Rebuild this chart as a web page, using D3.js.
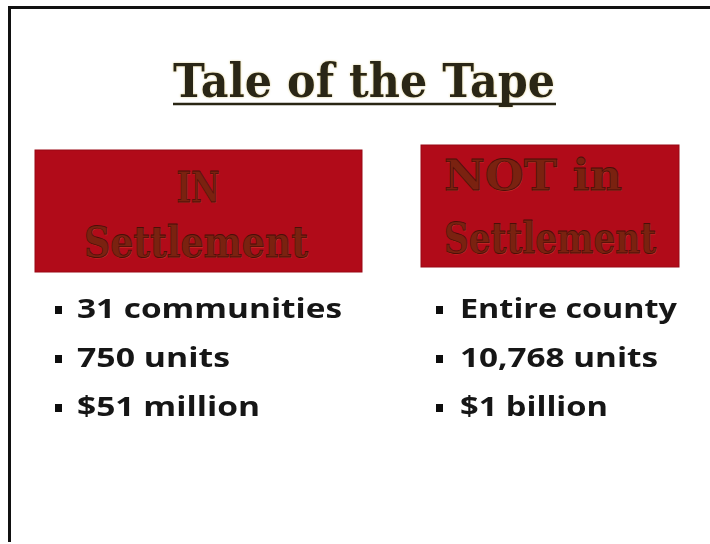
<!DOCTYPE html>
<html>
<head>
<meta charset="utf-8">
<script src="https://cdn.jsdelivr.net/npm/d3@7"></script>
<style>
  html, body { margin: 0; padding: 0; background: #fff; }
  #slide { width: 710px; height: 544px; }
</style>
</head>
<body>
<div id="slide"></div>
<script>
// 데이터
const titleText = "Tale of the Tape";
const headerLines = [["IN", "Settlement"], ["NOT in", "Settlement"]];
const leftItems = ["31 communities", "750 units", "$51 million"];
const rightItems = ["Entire county", "10,768 units", "$1 billion"];
const leftWidths = [265, 153, 183];   // 그림에서 읽은 글자 폭
const rightWidths = [217, 198, 148];

const W = 710, H = 544;

const svg = d3.select("#slide").append("svg")
  .attr("width", W).attr("height", H)
  .attr("viewBox", `0 0 ${W} ${H}`);

const defs = svg.append("defs");
const glow = defs.append("filter").attr("id", "glow").attr("x", "-5%").attr("y", "-20%").attr("width", "110%").attr("height", "140%");
glow.append("feGaussianBlur").attr("in", "SourceAlpha").attr("stdDeviation", 1.2).attr("result", "b");
glow.append("feFlood").attr("flood-color", "#c9b25a").attr("flood-opacity", 0.6);
glow.append("feComposite").attr("in2", "b").attr("operator", "in").attr("result", "g");
const gm = glow.append("feMerge");
gm.append("feMergeNode").attr("in", "g");
gm.append("feMergeNode").attr("in", "SourceGraphic");

// 살짝 번진 느낌
const soft = defs.append("filter").attr("id", "soft");
soft.append("feGaussianBlur").attr("stdDeviation", 0.5);

// 테두리
svg.append("path")
  .attr("d", `M ${W + 5} 7.5 L 9.5 7.5 L 9.5 542`)
  .attr("fill", "none").attr("stroke", "#111").attr("stroke-width", 3);

// 제목
svg.append("text")
  .attr("x", 173).attr("y", 97)
  .attr("textLength", 382).attr("lengthAdjust", "spacingAndGlyphs")
  .style("font-family", "'DejaVu Serif', serif")
  .style("font-weight", "bold")
  .style("font-size", "46px")
  .style("fill", "#2a2614")
  .attr("filter", "url(#glow)")
  .text(titleText);
svg.append("line")
  .attr("x1", 173).attr("x2", 556).attr("y1", 104).attr("y2", 104)
  .attr("stroke", "#2a2614").attr("stroke-width", 2.5);

// 빨간 박스
const boxes = [
  { x: 35, y: 150, w: 327, h: 122, base: [202, 257], lens: [43, 224], cx: [198, 196] },
  { x: 421, y: 145, w: 258, h: 122, base: [190, 253], lens: [178, 212], cx: [533, 550] }
];

boxes.forEach((b, i) => {
  svg.append("rect")
    .attr("x", b.x).attr("y", b.y).attr("width", b.w).attr("height", b.h)
    .attr("fill", "#b10b19")
    .attr("stroke", "#9a0814").attr("stroke-width", 1);
  headerLines[i].forEach((t, j) => {
    // 음각 효과: 밝은 그림자 + 어두운 글자
    svg.append("text")
      .attr("x", b.cx[j] + 1).attr("y", b.base[j] + 1)
      .attr("text-anchor", "middle")
      .attr("textLength", b.lens[j]).attr("lengthAdjust", "spacingAndGlyphs")
      .style("font-family", "'DejaVu Serif', serif")
      .style("font-weight", "bold")
      .style("font-size", "43px")
      .style("fill", "#d4472f").style("opacity", 0.55)
      .text(t);
    svg.append("text")
      .attr("x", b.cx[j]).attr("y", b.base[j])
      .attr("text-anchor", "middle")
      .attr("textLength", b.lens[j]).attr("lengthAdjust", "spacingAndGlyphs")
      .style("font-family", "'DejaVu Serif', serif")
      .style("font-weight", "bold")
      .style("font-size", "43px")
      .style("fill", "#7a2210")
      .style("stroke", "#4a0f08").style("stroke-width", 0.8)
      .text(t);
  });
});

// 글머리 목록
const yRow = d3.scaleLinear().domain([0, leftItems.length - 1]).range([318, 416]);

const drawList = (items, widths, bulletX, textX) => {
  const g = svg.append("g").attr("filter", "url(#soft)");
  g.selectAll(".bullet")
    .data(items)
    .enter()
    .append("rect")
    .attr("x", bulletX)
    .attr("y", (d, i) => yRow(i) - 12)
    .attr("width", 7).attr("height", 8)
    .attr("fill", "#111");
  g.selectAll(".item")
    .data(items)
    .enter()
    .append("text")
    .attr("x", textX)
    .attr("y", (d, i) => yRow(i))
    .attr("textLength", (d, i) => widths[i])
    .attr("lengthAdjust", "spacingAndGlyphs")
    .style("font-family", "'Open Sans', Lato, sans-serif")
    .style("font-weight", "bold")
    .style("font-size", "26px")
    .style("fill", "#141414")
    .text(d => d);
};

drawList(leftItems, leftWidths, 55, 77);
drawList(rightItems, rightWidths, 436, 460);
</script>
</body>
</html>
